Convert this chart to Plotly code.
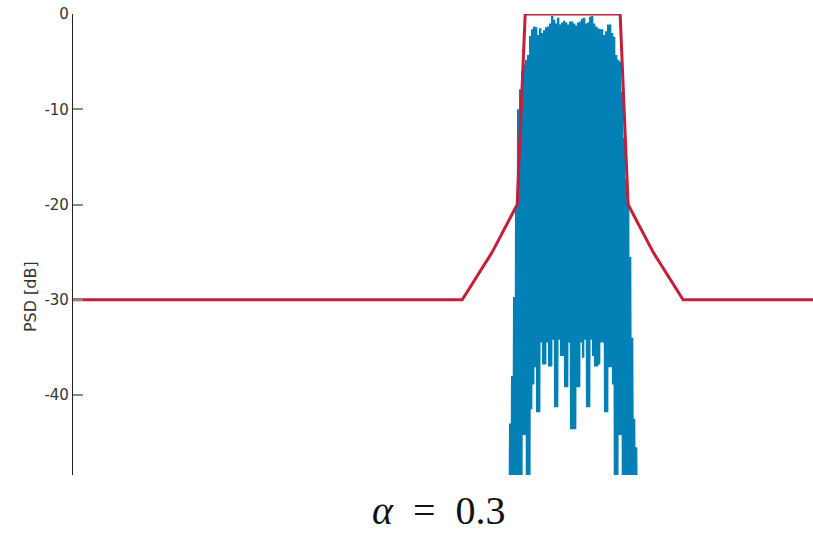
import numpy as np
import plotly.graph_objects as go

# ---- data (frequency in MHz relative to carrier) ----
mask_freq = [-10.0, -2.21, -1.61, -1.11, -0.95, 0.95, 1.11, 1.61, 2.21, 4.81]
mask_db = [-30, -30, -25, -20, 0, 0, -20, -25, -30, -30]

# PSD peak bins (every other bin, starting at -1.37 MHz, step 0.04 MHz)
psd_peak_db = [
    -60, -60, -50, -43, -38, -29.7, -20.2, -10.0, -7.9, -6.0,
    -5.3, -4.8, -4.3, -2.3, -1.6, -1.3, -1.4, -2.2, -1.5, -2.0,
    -1.7, -1.4, -1.3, -1.0, -0.2, -0.6, -1.0, -0.4, -1.1, -0.9,
    -0.7, -0.9, -1.1, -0.8, -0.8, -1.0, -1.2, -0.9, -0.8, -0.5,
    -0.4, -1.0, -0.9, -0.3, -0.2, -1.0, -1.3, -1.5, -1.6, -1.6,
    -2.2, -1.8, -1.1, -1.1, -2.0, -2.4, -4.3, -4.8, -5.0, -8.2,
    -13.0, -17.3, -19.8, -25.5, -34.0, -42.5, -45.5, -50, -60,
]
# PSD null bins (interleaved, offset by 0.02 MHz)
psd_null_db = [
    -60, -60, -60, -60, -60, -60, -60, -60, -60, -44.2,
    -44.2, -60, -60, -41.5, -38.9, -37.1, -41.8, -41.8, -34.5, -36.8,
    -36.8, -34.5, -37.0, -37.0, -34.2, -41.3, -41.3, -34.2, -35.9, -35.9,
    -39.2, -39.2, -34.5, -43.6, -43.6, -43.6, -39.2, -39.2, -34.5, -36.1,
    -34.2, -41.3, -41.3, -34.2, -35.9, -37.0, -37.0, -36.8, -34.5, -34.5,
    -41.8, -41.8, -37.1, -37.1, -38.9, -60, -60, -44.2, -44.2, -60,
    -60, -60, -60, -60, -60, -60, -60, -60, -60,
]

f0 = -1.37
step = 0.04
n = len(psd_peak_db)
peak_f = f0 + step * np.arange(n)
null_f = peak_f + step / 2
psd_f = np.empty(2 * n)
psd_db = np.empty(2 * n)
psd_f[0::2] = peak_f
psd_f[1::2] = null_f
psd_db[0::2] = psd_peak_db
psd_db[1::2] = psd_null_db

x_range = [-10.0, 4.81]
y_range = [-48.4, 0]
y_ticks = [0, -10, -20, -30, -40]
title_text = "<i>α</i>\u2002=\u20020.3"
y_label = "PSD [dB]"

BLUE = "#0380b5"
RED = "#c41e3a"

fig = go.Figure()
fig.add_trace(go.Scatter(x=psd_f, y=psd_db, mode="lines",
                         line=dict(color=BLUE, width=2.4), showlegend=False,
                         hoverinfo="skip"))
fig.add_trace(go.Scatter(x=mask_freq, y=mask_db, mode="lines",
                         line=dict(color=RED, width=3), showlegend=False))

fig.update_layout(
    width=813, height=533,
    margin=dict(l=73, r=0, t=14, b=58),
    plot_bgcolor="white", paper_bgcolor="white",
    font=dict(family="DejaVu Sans", size=15, color="#333333"),
    xaxis=dict(range=x_range, showticklabels=False, ticks="", showgrid=False,
               zeroline=False, showline=False),
    yaxis=dict(range=y_range, tickvals=y_ticks, ticktext=[str(v) for v in y_ticks],
               ticks="inside", ticklen=10, tickcolor="#888888", tickwidth=1.5,
               showgrid=False, zeroline=False, showline=True,
               linecolor="#222222", linewidth=1.2),
    annotations=[
        dict(text=title_text, xref="paper", yref="paper",
             x=(438.5 - 73) / 740, y=-0.077, xanchor="center", yanchor="middle",
             showarrow=False,
             font=dict(family="Liberation Serif", size=40, color="#111111")),
        dict(text=y_label, xref="paper", yref="paper",
             x=-(73 - 30.5) / 740, y=0.387, xanchor="center", yanchor="middle",
             textangle=-90, showarrow=False,
             font=dict(family="DejaVu Sans", size=16, color="#333333")),
    ],
)

fig.write_html("out.html")
